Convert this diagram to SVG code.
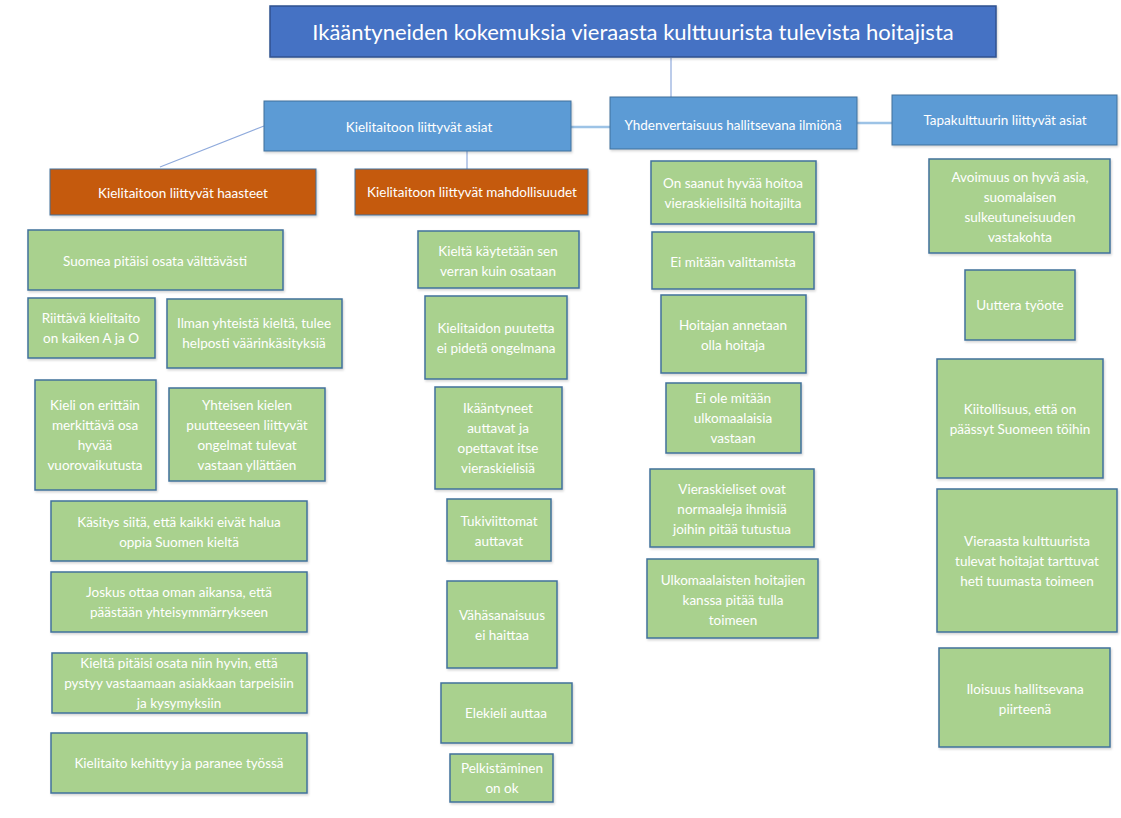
<svg xmlns="http://www.w3.org/2000/svg" width="1121" height="818" viewBox="0 0 1121 818">
<defs>
<filter id="sh" x="-10%" y="-10%" width="130%" height="130%">
<feDropShadow dx="1" dy="1.5" stdDeviation="1" flood-color="#000" flood-opacity="0.18"/>
</filter>
</defs>
<style>
.t{font-family:Lato,"Open Sans","Liberation Sans",sans-serif;fill:#fff;text-anchor:middle;font-size:13.5px}
.title rect{fill:#4472C4;stroke:#2F528F;stroke-width:1.5}
.hd rect{fill:#5B9BD5;stroke:#41719C;stroke-width:1}
.or rect{fill:#C55A11;stroke:#41719C;stroke-width:1}
.gr rect{fill:#A9D18E;stroke:#41719C;stroke-width:1.5}
rect{filter:url(#sh)}
.c line{stroke:#8FAADC;stroke-width:1.2;fill:none}
.c line.w{stroke:#9DC3E6;stroke-width:2.5}
</style>
<g class="c" id="connectors">
<line x1="671" y1="58" x2="671" y2="97"/>
<line class="w" x1="571" y1="127" x2="610" y2="127"/>
<line class="w" x1="857" y1="123" x2="892" y2="123"/>
<line x1="264" y1="126" x2="160" y2="167"/>
<line x1="467" y1="151" x2="467" y2="169"/>
</g>
<g id="title" class="title"><rect x="270" y="6" width="726" height="51"/><text class="t" x="633" y="40" style="font-size:22px">Ikääntyneiden kokemuksia vieraasta kulttuurista tulevista hoitajista</text></g>
<g id="h1" class="hd"><rect x="264" y="101" width="307" height="50"/><text class="t" x="419" y="132">Kielitaitoon liittyvät asiat</text></g>
<g id="h2" class="hd"><rect x="610" y="97" width="247" height="52"/><text class="t" x="733" y="130">Yhdenvertaisuus hallitsevana ilmiönä</text></g>
<g id="h3" class="hd"><rect x="892" y="95" width="225" height="50"/><text class="t" x="1005" y="125">Tapakulttuurin liittyvät asiat</text></g>
<g id="o1" class="or"><rect x="50" y="169" width="266" height="46"/><text class="t" x="183" y="198">Kielitaitoon liittyvät haasteet</text></g>
<g id="o2" class="or"><rect x="355" y="169" width="233" height="46"/><text class="t" x="472" y="197">Kielitaitoon liittyvät mahdollisuudet</text></g>

<g id="a1" class="gr"><rect x="28" y="230" width="255" height="60"/><text class="t" x="155" y="266">Suomea pitäisi osata välttävästi</text></g>
<g id="a2" class="gr"><rect x="28" y="298" width="127" height="60"/><text class="t" x="91" y="323">Riittävä kielitaito</text><text class="t" x="91" y="343">on kaiken A ja O</text></g>
<g id="a3" class="gr"><rect x="167" y="299" width="175" height="69"/><text class="t" x="254" y="328">Ilman yhteistä kieltä, tulee</text><text class="t" x="254" y="348">helposti väärinkäsityksiä</text></g>
<g id="a4" class="gr"><rect x="35" y="380" width="121" height="110"/><text class="t" x="95" y="410">Kieli on erittäin</text><text class="t" x="95" y="430">merkittävä osa</text><text class="t" x="95" y="450">hyvää</text><text class="t" x="95" y="470">vuorovaikutusta</text></g>
<g id="a5" class="gr"><rect x="169" y="388" width="156" height="93"/><text class="t" x="247" y="410">Yhteisen kielen</text><text class="t" x="247" y="430">puutteeseen liittyvät</text><text class="t" x="247" y="450">ongelmat tulevat</text><text class="t" x="247" y="470">vastaan yllättäen</text></g>
<g id="a6" class="gr"><rect x="51" y="501" width="256" height="60"/><text class="t" x="179" y="527">Käsitys siitä, että kaikki eivät halua</text><text class="t" x="179" y="547">oppia Suomen kieltä</text></g>
<g id="a7" class="gr"><rect x="51" y="572" width="256" height="60"/><text class="t" x="179" y="597">Joskus ottaa oman aikansa, että</text><text class="t" x="179" y="617">päästään yhteisymmärrykseen</text></g>
<g id="a8" class="gr"><rect x="52" y="653" width="255" height="60"/><text class="t" x="179" y="668">Kieltä pitäisi osata niin hyvin, että</text><text class="t" x="179" y="688">pystyy vastaamaan asiakkaan tarpeisiin</text><text class="t" x="179" y="708">ja kysymyksiin</text></g>
<g id="a9" class="gr"><rect x="51" y="733" width="256" height="60"/><text class="t" x="179" y="768">Kielitaito kehittyy ja paranee työssä</text></g>

<g id="b1" class="gr"><rect x="418" y="231" width="161" height="57"/><text class="t" x="498" y="256">Kieltä käytetään sen</text><text class="t" x="498" y="276">verran kuin osataan</text></g>
<g id="b2" class="gr"><rect x="425" y="296" width="142" height="83"/><text class="t" x="496" y="333">Kielitaidon puutetta</text><text class="t" x="496" y="353">ei pidetä ongelmana</text></g>
<g id="b3" class="gr"><rect x="435" y="387" width="127" height="102"/><text class="t" x="498" y="413">Ikääntyneet</text><text class="t" x="498" y="433">auttavat ja</text><text class="t" x="498" y="453">opettavat itse</text><text class="t" x="498" y="473">vieraskielisiä</text></g>
<g id="b4" class="gr"><rect x="447" y="499" width="104" height="62"/><text class="t" x="499" y="526">Tukiviittomat</text><text class="t" x="499" y="546">auttavat</text></g>
<g id="b5" class="gr"><rect x="447" y="581" width="110" height="87"/><text class="t" x="502" y="620">Vähäsanaisuus</text><text class="t" x="502" y="640">ei haittaa</text></g>
<g id="b6" class="gr"><rect x="441" y="683" width="131" height="60"/><text class="t" x="506" y="718">Elekieli auttaa</text></g>
<g id="b7" class="gr"><rect x="450" y="754" width="103" height="48"/><text class="t" x="502" y="773">Pelkistäminen</text><text class="t" x="502" y="793">on ok</text></g>

<g id="c1" class="gr"><rect x="651" y="161" width="165" height="63"/><text class="t" x="733" y="188">On saanut hyvää hoitoa</text><text class="t" x="733" y="208">vieraskielisiltä hoitajilta</text></g>
<g id="c2" class="gr"><rect x="652" y="232" width="162" height="57"/><text class="t" x="733" y="267">Ei mitään valittamista</text></g>
<g id="c3" class="gr"><rect x="661" y="295" width="145" height="78"/><text class="t" x="733" y="330">Hoitajan annetaan</text><text class="t" x="733" y="350">olla hoitaja</text></g>
<g id="c4" class="gr"><rect x="666" y="383" width="135" height="70"/><text class="t" x="733" y="403">Ei ole mitään</text><text class="t" x="733" y="423">ulkomaalaisia</text><text class="t" x="733" y="443">vastaan</text></g>
<g id="c5" class="gr"><rect x="650" y="469" width="164" height="78"/><text class="t" x="732" y="494">Vieraskieliset ovat</text><text class="t" x="732" y="514">normaaleja ihmisiä</text><text class="t" x="732" y="534">joihin pitää tutustua</text></g>
<g id="c6" class="gr"><rect x="647" y="559" width="171" height="79"/><text class="t" x="733" y="585">Ulkomaalaisten hoitajien</text><text class="t" x="733" y="605">kanssa pitää tulla</text><text class="t" x="733" y="625">toimeen</text></g>

<g id="d1" class="gr"><rect x="929" y="159" width="181" height="94"/><text class="t" x="1020" y="182">Avoimuus on hyvä asia,</text><text class="t" x="1020" y="202">suomalaisen</text><text class="t" x="1020" y="222">sulkeutuneisuuden</text><text class="t" x="1020" y="242">vastakohta</text></g>
<g id="d2" class="gr"><rect x="965" y="270" width="110" height="70"/><text class="t" x="1020" y="310">Uuttera työote</text></g>
<g id="d3" class="gr"><rect x="937" y="359" width="166" height="119"/><text class="t" x="1020" y="414">Kiitollisuus, että on</text><text class="t" x="1020" y="434">päässyt Suomeen töihin</text></g>
<g id="d4" class="gr"><rect x="937" y="489" width="180" height="143"/><text class="t" x="1027" y="546">Vieraasta kulttuurista</text><text class="t" x="1027" y="566">tulevat hoitajat tarttuvat</text><text class="t" x="1027" y="586">heti tuumasta toimeen</text></g>
<g id="d5" class="gr"><rect x="939" y="648" width="171" height="99"/><text class="t" x="1025" y="694">Iloisuus hallitsevana</text><text class="t" x="1025" y="714">piirteenä</text></g>
</svg>
